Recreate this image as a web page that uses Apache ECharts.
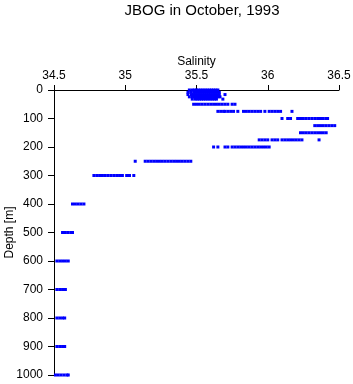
<!DOCTYPE html>
<html>
<head>
<meta charset="utf-8">
<script src="https://cdn.jsdelivr.net/npm/echarts@6/dist/echarts.min.js"></script>
<style>
  html, body { margin: 0; padding: 0; background: #fff; }
  #chart { width: 353px; height: 384px; }
</style>
</head>
<body>
<div id="chart"></div>
<script>
// axis ticks
const salinityTicks = [34.5, 35, 35.5, 36, 36.5]
const depthTicks = [0, 100, 200, 300, 400, 500, 600, 700, 800, 900, 1000]

// salinity readings at each sampled depth (m)
const sal0 = [35.45, 35.47, 35.485, 35.50, 35.515, 35.53, 35.545, 35.56, 35.575, 35.59, 35.605, 35.62, 35.635, 35.65]
const sal8 = [35.44, 35.46, 35.48, 35.495, 35.51, 35.525, 35.54, 35.555, 35.57, 35.585, 35.60, 35.615, 35.63, 35.645, 35.66]
const sal16 = [35.44, 35.465, 35.48, 35.495, 35.51, 35.525, 35.54, 35.555, 35.57, 35.585, 35.60, 35.615, 35.63, 35.645, 35.66, 35.70]
const sal24 = [35.45, 35.47, 35.485, 35.50, 35.515, 35.53, 35.545, 35.56, 35.575, 35.59, 35.605, 35.62, 35.635, 35.65, 35.665]
const sal32 = [35.47, 35.49, 35.505, 35.52, 35.535, 35.55, 35.565, 35.58, 35.595, 35.61, 35.625, 35.64, 35.685]
const sal50 = [35.48, 35.50, 35.52, 35.54, 35.56, 35.58, 35.60, 35.62, 35.64, 35.66, 35.68, 35.70, 35.72, 35.75, 35.77]
const sal75 = [35.65, 35.67, 35.69, 35.70, 35.72, 35.74, 35.76, 35.79, 35.83, 35.85, 35.87, 35.89, 35.91, 35.93, 35.95, 35.98, 36.01, 36.03, 36.05, 36.07, 36.09, 36.17]
const sal100 = [36.10, 36.14, 36.16, 36.21, 36.23, 36.25, 36.27, 36.29, 36.31, 36.33, 36.35, 36.37, 36.39, 36.41, 36.42]
const sal125 = [36.33, 36.35, 36.37, 36.39, 36.41, 36.43, 36.45, 36.47]
const sal150 = [36.23, 36.25, 36.27, 36.29, 36.31, 36.33, 36.35, 36.37, 36.39, 36.41]
const sal175 = [35.94, 35.96, 35.98, 36.00, 36.03, 36.05, 36.07, 36.10, 36.12, 36.14, 36.16, 36.18, 36.20, 36.22, 36.24, 36.36]
const sal200 = [35.62, 35.65, 35.70, 35.72, 35.75, 35.77, 35.79, 35.81, 35.83, 35.85, 35.87, 35.89, 35.91, 35.93, 35.95, 35.97, 35.99, 36.01]
const sal250 = [35.07, 35.14, 35.16, 35.18, 35.20, 35.22, 35.24, 35.26, 35.28, 35.30, 35.32, 35.34, 35.36, 35.38, 35.40, 35.42, 35.44, 35.46]
const sal300 = [34.78, 34.80, 34.82, 34.84, 34.86, 34.88, 34.90, 34.92, 34.94, 34.96, 34.98, 35.01, 35.03, 35.06]
const sal400 = [34.63, 34.65, 34.67, 34.69, 34.71]
const sal500 = [34.56, 34.58, 34.60, 34.62, 34.63]
const sal600 = [34.52, 34.54, 34.56, 34.58, 34.60]
const sal700 = [34.52, 34.54, 34.56, 34.58]
const sal800 = [34.52, 34.54, 34.56, 34.575]
const sal900 = [34.52, 34.54, 34.56, 34.575]
const sal1000 = [34.51, 34.53, 34.55, 34.57, 34.59, 34.60]

const layers = [
  [0, sal0], [8, sal8], [16, sal16], [24, sal24], [32, sal32],
  [50, sal50], [75, sal75], [100, sal100], [125, sal125], [150, sal150],
  [175, sal175], [200, sal200], [250, sal250], [300, sal300], [400, sal400],
  [500, sal500], [600, sal600], [700, sal700], [800, sal800], [900, sal900],
  [1000, sal1000]
]

const points = []
layers.forEach(([depth, sals]) => {
  sals.forEach(s => points.push([s, depth]))
})

const font = 'Liberation Sans, Arial, Helvetica, sans-serif'
const chart = echarts.init(document.getElementById('chart'))

chart.setOption({
  animation: false,
  title: {
    text: 'JBOG in October, 1993',
    left: 197,
    textAlign: 'center',
    top: -2,
    textStyle: { fontFamily: font, fontSize: 15, fontWeight: 'normal', color: '#000' }
  },
  grid: {
    left: 54, top: 90, width: 285, height: 285,
    containLabel: false, outerBoundsMode: 'none'
  },
  xAxis: {
    type: 'value',
    position: 'top',
    min: salinityTicks[0],
    max: salinityTicks[salinityTicks.length - 1],
    interval: 0.5,
    name: 'Salinity',
    nameLocation: 'middle',
    nameGap: 22,
    nameMoveOverlap: false,
    nameTextStyle: { fontFamily: font, fontSize: 12, color: '#000' },
    axisLine: { show: true, onZero: false, lineStyle: { color: '#000', width: 1 } },
    axisTick: { show: true, inside: false, length: 5, lineStyle: { color: '#000' } },
    axisLabel: { fontFamily: font, fontSize: 12, color: '#000', margin: 8 },
    splitLine: { show: false }
  },
  yAxis: {
    type: 'value',
    inverse: true,
    min: depthTicks[0],
    max: depthTicks[depthTicks.length - 1],
    interval: 100,
    name: 'Depth [m]',
    nameLocation: 'middle',
    nameGap: 38,
    nameMoveOverlap: false,
    nameTextStyle: { fontFamily: font, fontSize: 12, color: '#000' },
    axisLine: { show: true, onZero: false, lineStyle: { color: '#000', width: 1 } },
    axisTick: { show: true, inside: false, length: 6, lineStyle: { color: '#000' } },
    axisLabel: { fontFamily: font, fontSize: 12, color: '#000', margin: 11, formatter: v => String(v) },
    splitLine: { show: false }
  },
  series: [{
    type: 'scatter',
    data: points,
    symbol: 'rect',
    symbolSize: [3, 3],
    itemStyle: { color: '#0000ff', opacity: 1 },
    emphasis: { disabled: true }
  }]
})
</script>
</body>
</html>
